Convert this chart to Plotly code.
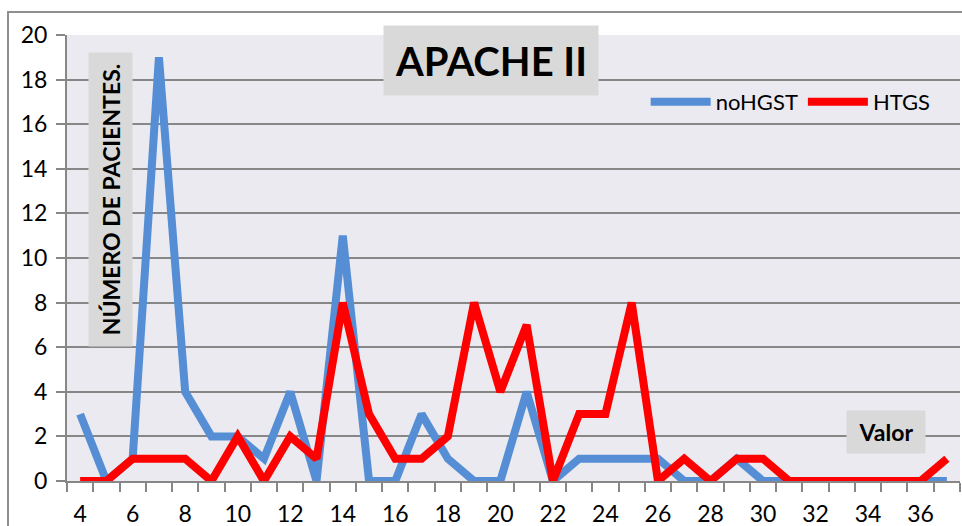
import plotly.graph_objects as go

# APACHE II score values (x axis) and patient counts per group
apache = list(range(4, 38))
no_hgst = [3, 0, 1, 19, 4, 2, 2, 1, 4, 0, 11, 0, 0, 3, 1, 0, 0, 4, 0, 1,
           1, 1, 1, 0, 0, 1, 0, 0, 0, 0, 0, 0, 0, 0]
htgs = [0, 0, 1, 1, 1, 0, 2, 0, 2, 1, 8, 3, 1, 1, 2, 8, 4, 7, 0, 3,
        3, 8, 0, 1, 0, 1, 1, 0, 0, 0, 0, 0, 0, 1]
x_ticks = list(range(4, 37, 2))
y_ticks = list(range(0, 21, 2))

FONT = "Lato"
GRID = "#878787"

fig = go.Figure()
fig.add_trace(go.Scatter(x=apache, y=no_hgst, mode="lines", name="noHGST",
                         line=dict(color="#558ED5", width=8)))
fig.add_trace(go.Scatter(x=apache, y=htgs, mode="lines", name="HTGS",
                         line=dict(color="#FF0000", width=8)))

boundaries = [v - 0.5 for v in apache] + [apache[-1] + 0.5]

fig.update_layout(
    width=962, height=526,
    margin=dict(l=67, r=2, t=35, b=45, autoexpand=False),
    paper_bgcolor="white",
    plot_bgcolor="#EBEAF0",
    font=dict(family=FONT, size=21, color="black"),
    showlegend=True,
    legend=dict(orientation="h", x=0.648, y=(481 - 102) / 446,
                xanchor="left", yanchor="middle",
                bgcolor="rgba(0,0,0,0)", font=dict(size=22, family=FONT),
                itemwidth=60, tracegroupgap=0),
    xaxis=dict(
        range=[apache[0] - 0.5, apache[-1] + 0.5],
        tickvals=x_ticks, ticktext=[str(v) for v in x_ticks],
        ticks="", showgrid=False, zeroline=False, automargin=False,
        showline=True, linecolor=GRID, linewidth=2,
        ticklabelstandoff=11,
        tickfont=dict(size=23, family=FONT),
        minor=dict(tickvals=boundaries, ticks="outside", ticklen=9,
                   tickcolor=GRID, tickwidth=2, showgrid=False),
    ),
    yaxis=dict(
        range=[0, 20], tickvals=y_ticks, automargin=False,
        ticks="outside", ticklen=9, tickcolor=GRID, tickwidth=2,
        showgrid=True, gridcolor=GRID, gridwidth=2, zeroline=False,
        showline=True, linecolor=GRID, linewidth=2,
        ticklabelstandoff=4,
        tickfont=dict(size=23, family=FONT),
    ),
    shapes=[
        dict(type="rect", xref="paper", yref="paper",
             x0=(8 - 67) / 893, x1=(966 - 67) / 893,
             y0=(481 - 535) / 446, y1=(481 - 12) / 446,
             line=dict(color="#8F8F8F", width=2), fillcolor="rgba(0,0,0,0)",
             layer="below"),
    ],
    annotations=[
        dict(text="<b>APACHE II</b>", xref="paper", yref="paper",
             x=(491 - 67) / 893, y=(481 - 61) / 446, showarrow=False,
             xanchor="center", yanchor="middle",
             bgcolor="#D9D9D9", width=212, height=67,
             font=dict(size=40, family=FONT, color="black")),
        dict(text="<b>NÚMERO DE PACIENTES.</b>", xref="paper", yref="paper",
             x=(110.5 - 67) / 893, y=(481 - 199.5) / 446, showarrow=False,
             xanchor="center", yanchor="middle", textangle=-90,
             bgcolor="#D9D9D9", width=291, height=41,
             font=dict(size=23, family=FONT, color="black")),
        dict(text="<b>Valor</b>", xref="paper", yref="paper",
             x=(886 - 67) / 893, y=(481 - 432) / 446, showarrow=False,
             xanchor="center", yanchor="middle",
             bgcolor="#D9D9D9", width=76, height=40,
             font=dict(size=23, family=FONT, color="black")),
    ],
)

fig.write_html("out.html")
